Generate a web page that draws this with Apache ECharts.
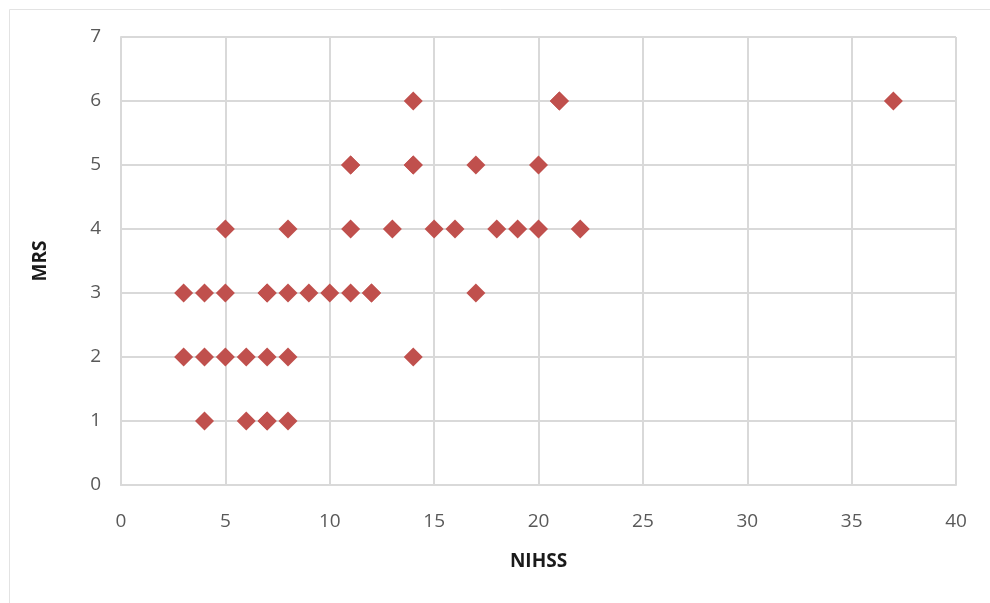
<!DOCTYPE html>
<html>
<head>
<meta charset="utf-8">
<script src="https://cdn.jsdelivr.net/npm/echarts@6/dist/echarts.min.js"></script>
<style>
  html, body { margin: 0; padding: 0; background: #ffffff; }
  #chart { width: 990px; height: 603px; }
</style>
</head>
<body>
<div id="chart"></div>
<script>
// NIHSS score and MRS score per patient
const nihss = [14, 21, 21, 37,
               11, 11, 14, 14, 17, 20,
               5, 8, 11, 13, 15, 16, 18, 19, 20, 22,
               3, 4, 5, 7, 7, 8, 9, 10, 11, 12, 12, 17,
               3, 4, 5, 6, 7, 8, 14,
               4, 6, 7, 7, 8];
const mrs = [6, 6, 6, 6,
             5, 5, 5, 5, 5, 5,
             4, 4, 4, 4, 4, 4, 4, 4, 4, 4,
             3, 3, 3, 3, 3, 3, 3, 3, 3, 3, 3, 3,
             2, 2, 2, 2, 2, 2, 2,
             1, 1, 1, 1, 1];

const xTicks = [0, 5, 10, 15, 20, 25, 30, 35, 40];
const yTicks = [0, 1, 2, 3, 4, 5, 6, 7];

const points = nihss.map((x, i) => [x, mrs[i]]);

const chart = echarts.init(document.getElementById('chart'), null, { renderer: 'canvas' });
const labelFont = "'Open Sans', 'Liberation Sans', sans-serif";
const gridColor = '#d9d9d9';

chart.setOption({
  backgroundColor: '#ffffff',
  animation: false,
  graphic: [{
    type: 'rect',
    shape: { x: 9.5, y: 9.5, width: 1000, height: 700 },
    style: { fill: 'none', stroke: '#e3e3e3', lineWidth: 1 },
    silent: true
  }],
  grid: { left: 121, top: 37, right: 34, bottom: 118 },
  xAxis: {
    type: 'value',
    min: xTicks[0],
    max: xTicks[xTicks.length - 1],
    interval: 5,
    name: 'NIHSS',
    nameLocation: 'middle',
    nameGap: 67,
    nameTextStyle: { fontFamily: labelFont, fontWeight: 'bold', fontSize: 19, color: '#1a1a1a' },
    axisLine: { show: true, lineStyle: { color: gridColor, width: 2 } },
    axisTick: { show: false },
    axisLabel: { fontFamily: labelFont, fontSize: 19, color: '#595959', margin: 27 },
    splitLine: { show: true, lineStyle: { color: gridColor, width: 2 } }
  },
  yAxis: {
    type: 'value',
    min: yTicks[0],
    max: yTicks[yTicks.length - 1],
    interval: 1,
    name: 'MRS',
    nameLocation: 'middle',
    nameGap: 71,
    nameRotate: 90,
    nameTextStyle: { fontFamily: labelFont, fontWeight: 'bold', fontSize: 19, color: '#1a1a1a' },
    axisLine: { show: true, lineStyle: { color: gridColor, width: 2 } },
    axisTick: { show: false },
    axisLabel: { fontFamily: labelFont, fontSize: 19, color: '#595959', margin: 20 },
    splitLine: { show: true, lineStyle: { color: gridColor, width: 2 } }
  },
  series: [{
    type: 'scatter',
    data: points,
    symbol: 'diamond',
    symbolSize: 19,
    itemStyle: { color: '#c0504d', opacity: 1 }
  }]
});
</script>
</body>
</html>
